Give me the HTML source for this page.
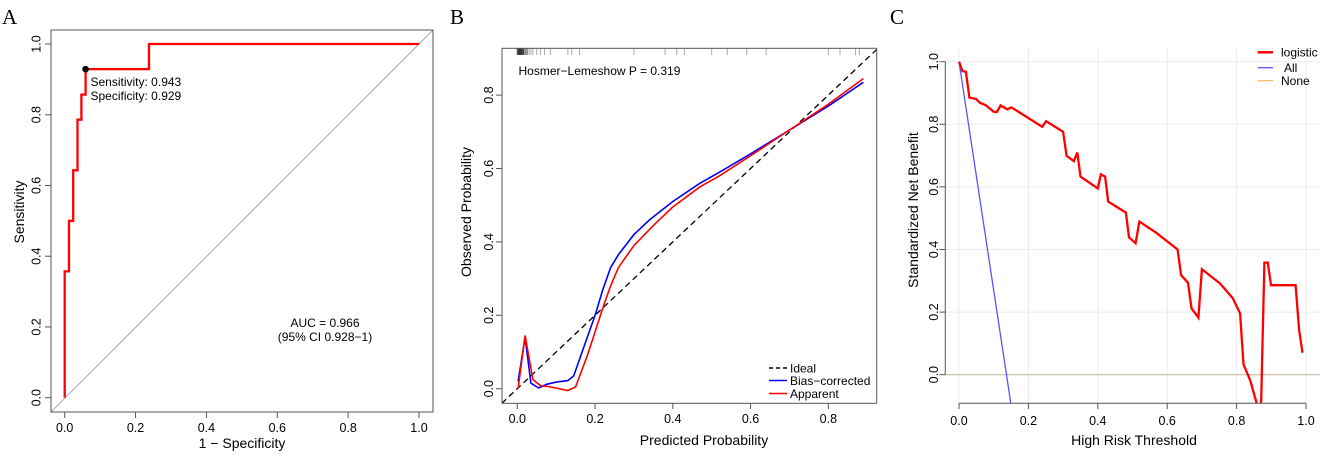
<!DOCTYPE html>
<html><head><meta charset="utf-8"><style>
body{margin:0;background:#fff}
svg{display:block;font-family:"Liberation Sans",sans-serif}
</style></head><body>
<svg id="s" width="1325" height="456" viewBox="0 0 1325 456"></svg>
<script>
// Panel A data
const rocX=[0,0,0.012,0.012,0.024,0.024,0.036,0.036,0.047,0.047,0.059,0.059,0.238,0.238,1];
const rocY=[0,0.357,0.357,0.5,0.5,0.643,0.643,0.786,0.786,0.857,0.857,0.929,0.929,1,1];
const rocPoint=[0.059,0.929];
const ticksA=["0.0","0.2","0.4","0.6","0.8","1.0"];
// Panel B data
const biasX=[0.002,0.02,0.035,0.055,0.075,0.1,0.13,0.145,0.17,0.2,0.22,0.24,0.26,0.3,0.34,0.4,0.47,0.52,0.6,0.7,0.8,0.89];
const biasY=[0.02,0.14,0.015,0.002,0.012,0.018,0.022,0.035,0.11,0.2,0.27,0.33,0.365,0.42,0.46,0.51,0.56,0.59,0.64,0.705,0.77,0.835];
const appX=[0.002,0.02,0.04,0.06,0.08,0.13,0.15,0.18,0.22,0.24,0.26,0.3,0.35,0.4,0.47,0.52,0.6,0.7,0.8,0.89];
const appY=[0.0,0.145,0.025,0.008,0.006,-0.005,0.005,0.09,0.22,0.28,0.33,0.39,0.445,0.495,0.55,0.58,0.635,0.705,0.775,0.845];
const rugX=[0.0,0.003,0.005,0.007,0.009,0.011,0.013,0.016,0.02,0.025,0.03,0.035,0.04,0.05,0.06,0.07,0.085,0.13,0.14,0.16,0.3,0.38,0.41,0.43,0.5,0.54,0.59,0.64,0.8,0.83,0.87,0.88];
const ticksBx=["0.0","0.2","0.4","0.6","0.8"];
const ticksBy=["0.0","0.2","0.4","0.6","0.8"];
// Panel C data
const logX=[0,0.01,0.02,0.03,0.049,0.06,0.078,0.1,0.109,0.12,0.139,0.151,0.24,0.251,0.3,0.31,0.331,0.341,0.35,0.4,0.409,0.421,0.43,0.481,0.49,0.509,0.52,0.57,0.63,0.64,0.66,0.67,0.69,0.7,0.752,0.789,0.81,0.82,0.839,0.865,0.87,0.88,0.89,0.899,0.97,0.98,0.99];
const logY=[1.0,0.97,0.968,0.885,0.881,0.869,0.86,0.84,0.839,0.86,0.848,0.854,0.792,0.81,0.776,0.699,0.682,0.71,0.633,0.595,0.64,0.633,0.553,0.518,0.439,0.42,0.489,0.452,0.40,0.318,0.294,0.212,0.182,0.337,0.292,0.244,0.196,0.033,-0.017,-0.12,-0.12,0.358,0.358,0.286,0.286,0.143,0.07];
const allX=[0,0.137,0.16];
const allY=[1,0,-0.17];
const ticksC=["0.0","0.2","0.4","0.6","0.8","1.0"];

const S=document.getElementById('s');
const NS='http://www.w3.org/2000/svg';
function el(t,a,p){const e=document.createElementNS(NS,t);for(const k in a)e.setAttribute(k,a[k]);(p||S).appendChild(e);return e;}
function txt(x,y,s,a,p){const e=el('text',Object.assign({x:x,y:y},a),p);e.textContent=s;return e;}
function pts(xs,ys,fx,fy){return xs.map((v,i)=>fx(v).toFixed(1)+','+fy(ys[i]).toFixed(1)).join(' ');}

// ===== Panel A =====
{
const g=el('g',{});
const fx=v=>64.7+v*354.3, fy=v=>397.7-v*353.7;
let t=txt(2,24,'A',{'font-family':'Liberation Serif,serif','font-size':21},g);
const cp=el('clipPath',{id:'ca'},g);el('rect',{x:51,y:30,width:382,height:382},cp);
let d=el('line',{x1:51,y1:412,x2:433,y2:30,stroke:'#999','stroke-width':0.8,'clip-path':'url(#ca)'},g);
let r=el('polyline',{points:pts(rocX,rocY,fx,fy),fill:'none',stroke:'#f00','stroke-width':2.3},g);
let c=el('circle',{cx:fx(rocPoint[0]),cy:fy(rocPoint[1]),r:3.3,fill:'#000'},g);
let b=el('rect',{x:51,y:30,width:382,height:382,fill:'none',stroke:'#555','stroke-width':1},g);
ticksA.forEach((s,i)=>{const v=i*0.2;
 el('line',{x1:fx(v),y1:412,x2:fx(v),y2:418,stroke:'#555'},g);
 let a=txt(fx(v),432,s,{'font-size':12.5,'text-anchor':'middle'},g);
 el('line',{x1:45,y1:fy(v),x2:51,y2:fy(v),stroke:'#555'},g);
 let b2=txt(0,0,s,{'font-size':12.5,'text-anchor':'middle',transform:`translate(40.5,${fy(v)}) rotate(-90)`},g);
});
t=txt(242,448,'1 − Specificity',{'font-size':14,'text-anchor':'middle'},g);
t=txt(0,0,'Sensitivity',{'font-size':14,'text-anchor':'middle',transform:'translate(24,212) rotate(-90)'},g);
t=txt(90.5,86,'Sensitivity: 0.943',{'font-size':12},g);
t=txt(90.5,100,'Specificity: 0.929',{'font-size':12},g);
t=txt(325,327,'AUC = 0.966',{'font-size':12,'text-anchor':'middle'},g);
t=txt(325,341,'(95% CI 0.928−1)',{'font-size':12,'text-anchor':'middle'},g);
}
// ===== Panel B =====
{
const g=el('g',{});
const fx=v=>517.3+v*388.8, fy=v=>388.7-v*367;
let t=txt(450,24,'B',{'font-family':'Liberation Serif,serif','font-size':21},g);
const cp=el('clipPath',{id:'cb'},g);el('rect',{x:502,y:48.3,width:374.7,height:355},cp);
rugX.forEach(v=>{let l=el('line',{x1:fx(v),y1:48.3,x2:fx(v),y2:55,stroke:v<0.03?'#333':'#aaa','stroke-width':1,'clip-path':'url(#cb)'},g);});
let d=el('line',{x1:fx(-0.04),y1:fy(-0.04),x2:fx(0.93),y2:fy(0.93),stroke:'#000','stroke-width':1.3,'stroke-dasharray':'6,4','clip-path':'url(#cb)'},g);
let p=el('polyline',{points:pts(biasX,biasY,fx,fy),fill:'none',stroke:'#00f','stroke-width':1.6},g);
p=el('polyline',{points:pts(appX,appY,fx,fy),fill:'none',stroke:'#f00','stroke-width':1.6},g);
let b=el('rect',{x:502,y:48.3,width:374.7,height:355,fill:'none',stroke:'#555'},g);
ticksBx.forEach((s,i)=>{const v=i*0.2;
 el('line',{x1:fx(v),y1:403.3,x2:fx(v),y2:409,stroke:'#555'},g);
 let a=txt(fx(v),423,s,{'font-size':12.5,'text-anchor':'middle'},g);});
ticksBy.forEach((s,i)=>{const v=i*0.2;
 el('line',{x1:496,y1:fy(v),x2:502,y2:fy(v),stroke:'#555'},g);
 let a=txt(0,0,s,{'font-size':12.5,'text-anchor':'middle',transform:`translate(493,${fy(v)}) rotate(-90)`},g);});
t=txt(704,445,'Predicted Probability',{'font-size':14,'text-anchor':'middle'},g);
t=txt(0,0,'Observed Probability',{'font-size':14,'text-anchor':'middle',transform:'translate(471,212) rotate(-90)'},g);
t=txt(518.5,75,'Hosmer−Lemeshow P = 0.319',{'font-size':12},g);
const leg=[['Ideal','#000','4,3'],['Bias−corrected','#00f',''],['Apparent','#f00','']];
leg.forEach((L,i)=>{const y=[368,380.5,393.5][i];
 let l=el('line',{x1:769,y1:y,x2:787,y2:y,stroke:L[1],'stroke-width':1.6,'stroke-dasharray':L[2]},g);
 let a=txt(790,y+4.3,L[0],{'font-size':12},g);});
}
// ===== Panel C =====
{
const g=el('g',{});
const fx=v=>959+v*347, fy=v=>374.7-v*313;
let t=txt(890,24,'C',{'font-family':'Liberation Serif,serif','font-size':21},g);
const cp=el('clipPath',{id:'cc'},g);el('rect',{x:945,y:40,width:380,height:363.3},cp);
for(let i=0;i<=5;i++){const v=i*0.2;
 let l=el('line',{x1:fx(v),y1:48,x2:fx(v),y2:403,stroke:'#ebebeb'},g);
 l=el('line',{x1:945,y1:fy(v),x2:1320,y2:fy(v),stroke:'#ebebeb'},g);}
let n=el('line',{x1:945,y1:fy(0),x2:1320,y2:fy(0),stroke:'#c8c0a0','stroke-width':1.2},g);
let p=el('polyline',{points:pts(allX,allY,fx,fy),fill:'none',stroke:'#5555ff','stroke-width':1.3,'clip-path':'url(#cc)'},g);
p=el('polyline',{points:pts(logX,logY,fx,fy),fill:'none',stroke:'#f00','stroke-width':2.3,'clip-path':'url(#cc)'},g);
el('line',{x1:945.3,y1:fy(0),x2:945.3,y2:fy(1),stroke:'#555'},g);
el('line',{x1:fx(0),y1:403.3,x2:fx(1),y2:403.3,stroke:'#555'},g);
ticksC.forEach((s,i)=>{const v=i*0.2;
 el('line',{x1:fx(v),y1:403.3,x2:fx(v),y2:409,stroke:'#555'},g);
 let a=txt(fx(v),425,s,{'font-size':12.5,'text-anchor':'middle'},g);
 el('line',{x1:939.5,y1:fy(v),x2:945.3,y2:fy(v),stroke:'#555'},g);
 let b2=txt(0,0,s,{'font-size':12.5,'text-anchor':'middle',transform:`translate(938,${fy(v)}) rotate(-90)`},g);});
t=txt(1134,445,'High Risk Threshold',{'font-size':14,'text-anchor':'middle'},g);
t=txt(0,0,'Standardized Net Benefit',{'font-size':14,'text-anchor':'middle',transform:'translate(918,210) rotate(-90)'},g);
const leg=[['logistic','#f00',2.5,1281],['All','#5555ff',1.3,1284],['None','#f0c060',1.3,1281]];
leg.forEach((L,i)=>{const y=[52.3,67.7,80.7][i];
 let l=el('line',{x1:1257.7,y1:y,x2:1273,y2:y,stroke:L[1],'stroke-width':L[2]},g);
 let a=txt(L[3],y+4.3,L[0],{'font-size':12},g);});
}
</script>
</body></html>
